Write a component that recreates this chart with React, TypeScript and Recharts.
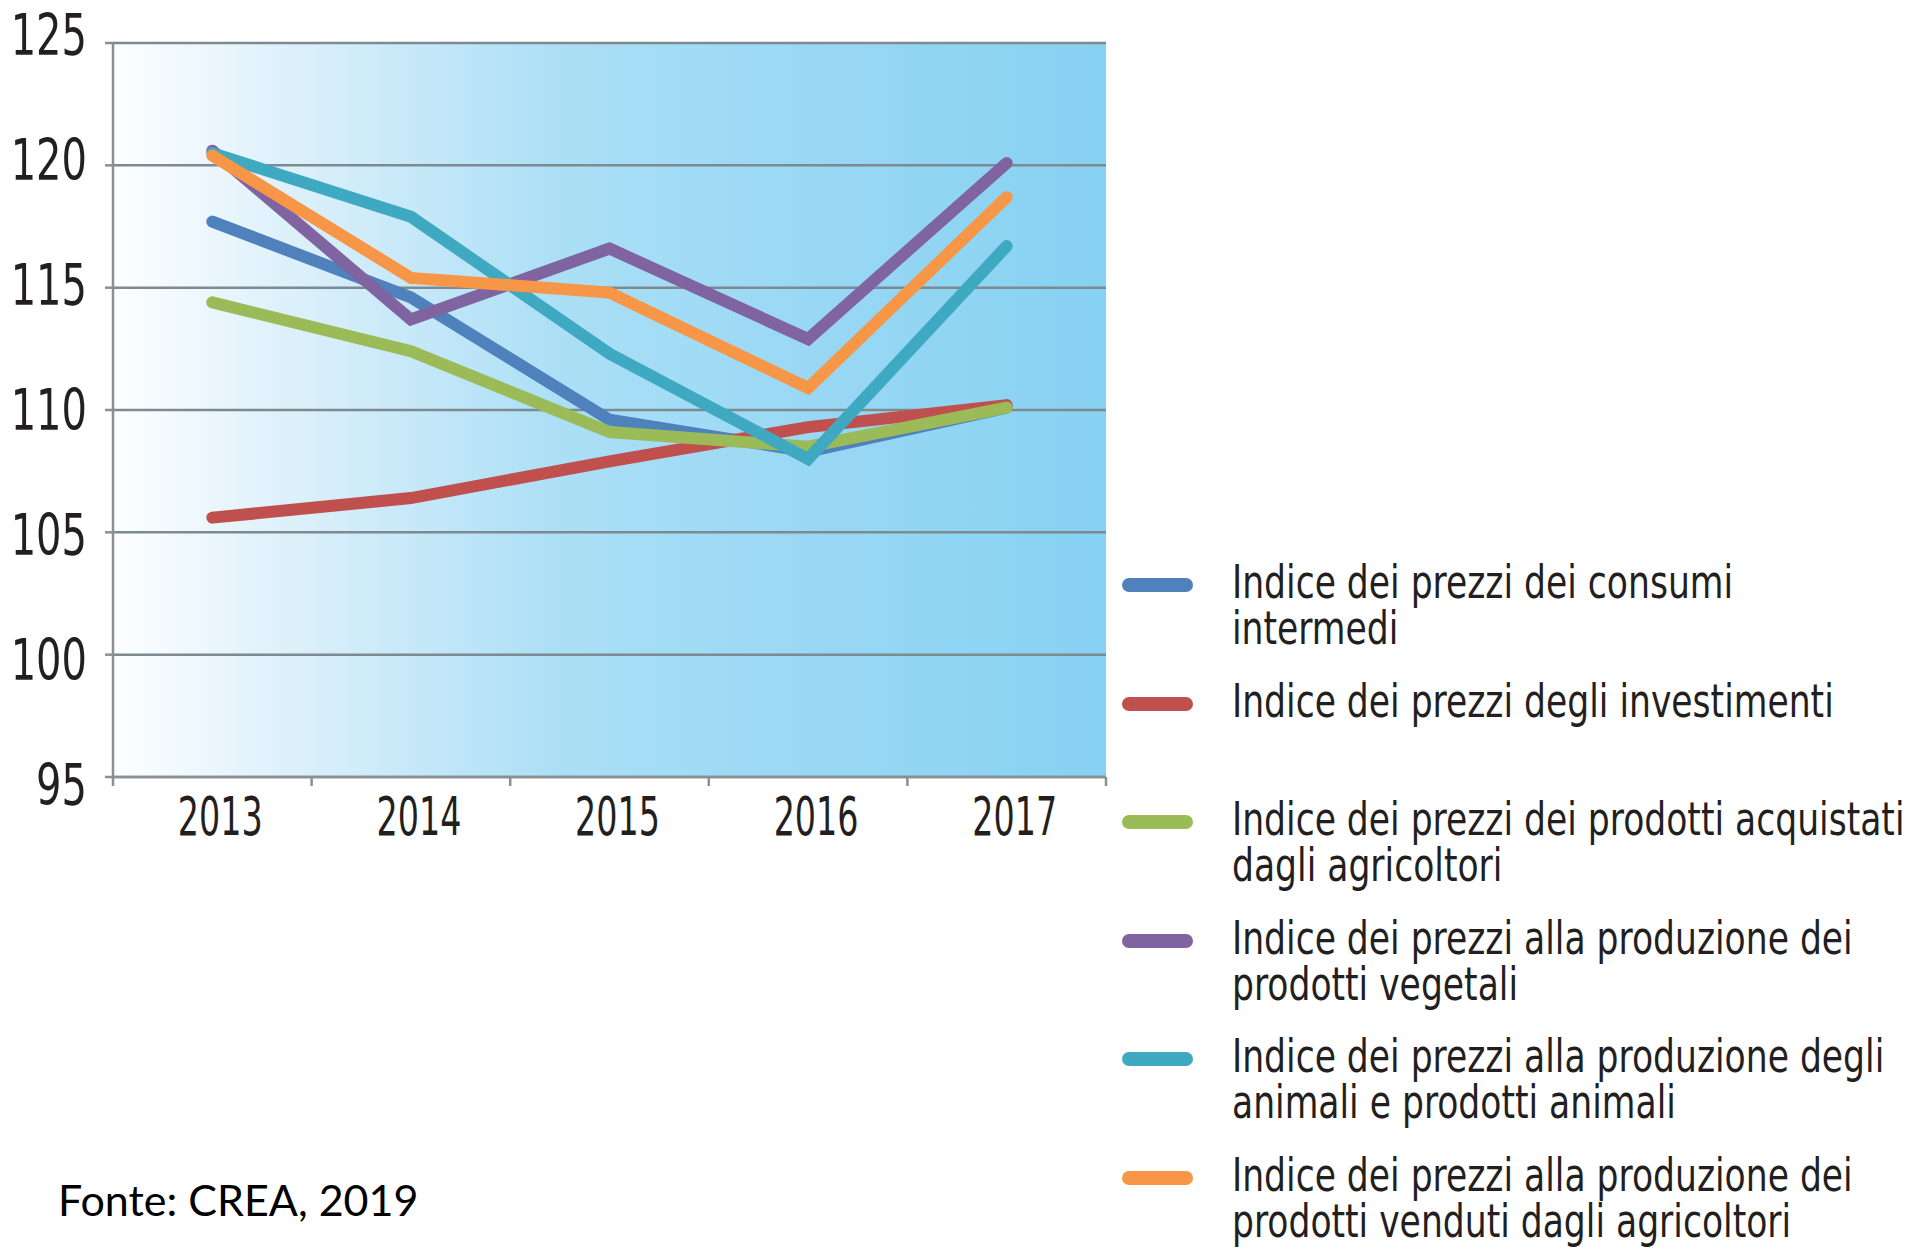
import { CartesianGrid, Line, LineChart, XAxis, YAxis } from "recharts";

// Anni e indici dei prezzi
const YEARS = ["2013", "2014", "2015", "2016", "2017"];
const CONSUMI_INTERMEDI = [117.7, 114.6, 109.6, 108.3, 110.1];
const INVESTIMENTI = [105.6, 106.4, 107.9, 109.3, 110.2];
const ACQUISTATI = [114.4, 112.4, 109.1, 108.5, 110.1];
const VEGETALI = [120.6, 113.7, 116.6, 112.9, 120.1];
const ANIMALI = [120.5, 117.9, 112.3, 108.0, 116.7];
const VENDUTI = [120.4, 115.4, 114.8, 110.9, 118.7];

const Y_TICKS = [95, 100, 105, 110, 115, 120, 125];

const SERIES = [
  { key: "consumi", label: "Indice dei prezzi dei consumi\nintermedi", color: "#4f81bd", values: CONSUMI_INTERMEDI },
  { key: "investimenti", label: "Indice dei prezzi degli investimenti", color: "#c0504d", values: INVESTIMENTI },
  { key: "acquistati", label: "Indice dei prezzi dei prodotti acquistati\ndagli agricoltori", color: "#9bbb59", values: ACQUISTATI },
  { key: "vegetali", label: "Indice dei prezzi alla produzione dei\nprodotti vegetali", color: "#8064a2", values: VEGETALI },
  { key: "animali", label: "Indice dei prezzi alla produzione degli\nanimali e prodotti animali", color: "#3fa9c2", values: ANIMALI },
  { key: "venduti", label: "Indice dei prezzi alla produzione dei\nprodotti venduti dagli agricoltori", color: "#f79646", values: VENDUTI },
];

const data = YEARS.map((year, i) => {
  const row: Record<string, string | number> = { year };
  SERIES.forEach((s) => (row[s.key] = s.values[i]));
  return row;
});

const W = 1909;
const H = 1249;
const PLOT = { left: 113, top: 43, right: 1106, bottom: 777 };
const Y_AXIS_W = 100;
const X_AXIS_H = 80;
const HALF_BAND = (PLOT.right - PLOT.left) / YEARS.length / 2;

const AXIS_COLOR = "#8a8f93";
const GRID_COLOR = "#7d8a92";
const TEXT_COLOR = "#231f20";
const AXIS_FONT = "'Liberation Sans Narrow', 'DejaVu Sans Condensed', 'Roboto', sans-serif";

function YTick({ x, y, payload }: any) {
  const v = Number(payload.value);
  const dy = (110 - v) * 0.55 + 20;
  return (
    <text
      transform={`translate(${x + 3} ${y + dy}) scale(0.78 1)`}
      textAnchor="end"
      fontSize={57}
      fill={TEXT_COLOR}
      fontFamily={AXIS_FONT}
    >
      {payload.value}
    </text>
  );
}

function XTick({ x, y, payload, index }: any) {
  return (
    <g>
      <line x1={x - HALF_BAND} x2={x - HALF_BAND} y1={y} y2={y + 9} stroke={AXIS_COLOR} strokeWidth={2.5} />
      {index === YEARS.length - 1 && (
        <line x1={x + HALF_BAND} x2={x + HALF_BAND} y1={y} y2={y + 9} stroke={AXIS_COLOR} strokeWidth={2.5} />
      )}
      <text
        transform={`translate(${x + 8} ${y + 58}) scale(0.7 1)`}
        textAnchor="middle"
        fontSize={53}
        fill={TEXT_COLOR}
        fontFamily={AXIS_FONT}
      >
        {payload.value}
      </text>
    </g>
  );
}

export default function App() {
  return (
    <div style={{ position: "absolute", left: 0, top: 0, width: W, height: H, background: "#fff" }}>
      <LineChart
        width={W}
        height={H}
        data={data}
        margin={{
          top: PLOT.top,
          right: W - PLOT.right,
          bottom: H - PLOT.bottom - X_AXIS_H,
          left: PLOT.left - Y_AXIS_W,
        }}
      >
        <defs>
          <linearGradient id="plotBg" x1="0" y1="0" x2="1" y2="0">
            <stop offset="0%" stopColor="#fdfeff" />
            <stop offset="20%" stopColor="#d9effa" />
            <stop offset="45%" stopColor="#abdff6" />
            <stop offset="70%" stopColor="#99d8f4" />
            <stop offset="100%" stopColor="#87d1f2" />
          </linearGradient>
        </defs>
        <CartesianGrid vertical={false} stroke={GRID_COLOR} strokeWidth={2.5} fill="url(#plotBg)" fillOpacity={1} />
        <XAxis
          dataKey="year"
          type="category"
          height={X_AXIS_H}
          padding={{ left: HALF_BAND, right: HALF_BAND }}
          axisLine={{ stroke: AXIS_COLOR, strokeWidth: 2.5 }}
          tickLine={false}
          tickSize={0}
          tickMargin={0}
          interval={0}
          tick={<XTick />}
        />
        <YAxis
          width={Y_AXIS_W}
          domain={[95, 125]}
          ticks={Y_TICKS}
          interval={0}
          axisLine={{ stroke: AXIS_COLOR, strokeWidth: 2.5 }}
          tickLine={{ stroke: AXIS_COLOR, strokeWidth: 2.5 }}
          tickSize={8}
          tickMargin={21}
          tick={<YTick />}
        />
        {SERIES.map((s) => (
          <Line
            key={s.key}
            dataKey={s.key}
            name={s.label}
            type="linear"
            stroke={s.color}
            strokeWidth={12}
            strokeLinecap="round"
            strokeLinejoin="miter"
            dot={false}
            activeDot={false}
            isAnimationActive={false}
          />
        ))}
      </LineChart>

      {SERIES.map((s, i) => {
        const center = 585 + i * 118.5;
        return (
          <div key={s.key} style={{ position: "absolute", left: 1122, top: center - 26, width: 787 }}>
            <div
              style={{
                position: "absolute",
                left: 0,
                top: 19,
                width: 71,
                height: 14,
                borderRadius: 7,
                background: s.color,
              }}
            />
            <div
              style={{
                position: "absolute",
                left: 110,
                top: 0,
                fontFamily: AXIS_FONT,
                fontSize: 46,
                lineHeight: "46px",
                color: TEXT_COLOR,
                whiteSpace: "pre",
                transform: "scaleX(0.835)",
                transformOrigin: "left top",
              }}
            >
              {s.label}
            </div>
          </div>
        );
      })}

      <div
        style={{
          position: "absolute",
          left: 58,
          top: 1178,
          fontFamily: "Lato, 'Open Sans', sans-serif",
          fontSize: 43,
          lineHeight: "43px",
          color: "#000",
          whiteSpace: "nowrap",
        }}
      >
        Fonte: CREA, 2019
      </div>
    </div>
  );
}
